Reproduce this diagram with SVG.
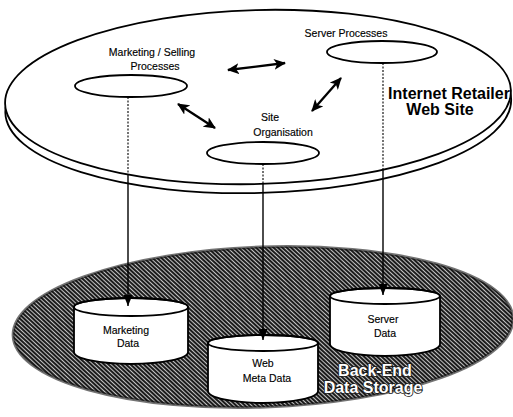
<svg xmlns="http://www.w3.org/2000/svg" width="513" height="417" viewBox="0 0 513 417">
<style>
.lbl{font-family:"Liberation Sans",Arial,sans-serif;font-size:10.5px;text-anchor:middle;fill:#000;stroke:#000;stroke-width:0.15}
.big{font-family:"Liberation Sans",Arial,sans-serif;font-size:16px;font-weight:bold;text-anchor:middle;fill:#000}
.wbig{font-family:"Liberation Sans",Arial,sans-serif;font-size:16px;font-weight:bold;text-anchor:middle;fill:#fff;stroke:#1a1a1a;stroke-width:1.6;paint-order:stroke}
.shape{fill:#fff;stroke:#000;stroke-width:1.8}
.dash{stroke:#000;stroke-width:1.1;stroke-dasharray:2 1.5;fill:none}
.solid{stroke:#000;stroke-width:1.4;fill:none}
.dbl{stroke:#000;stroke-width:2.3;fill:none;marker-start:url(#ah);marker-end:url(#ah)}
</style>
<defs>
<pattern id="hatch" width="3" height="3" patternUnits="userSpaceOnUse" patternTransform="rotate(-45)">
<rect width="3" height="3" fill="#1c1c1c"/>
<rect width="0.9" height="3" fill="#d6d6d6"/>
</pattern>
<marker id="ah" viewBox="0 0 12 11" refX="11" refY="5.5" markerWidth="12" markerHeight="11" markerUnits="userSpaceOnUse" orient="auto-start-reverse">
<path d="M0,0 L12,5.5 L0,11 L3,5.5 z" fill="#000"/>
</marker>
<marker id="down" viewBox="0 0 11 9" refX="11" refY="4.5" markerWidth="11" markerHeight="9" markerUnits="userSpaceOnUse" orient="auto">
<path d="M0,0 L11,4.5 L0,9 z" fill="#000"/>
</marker>
</defs>

<g id="web-site">
<g transform="rotate(-1.5 258 97)">
<ellipse class="shape" cx="258" cy="106" rx="253" ry="87"/>
<ellipse class="shape" cx="258" cy="97" rx="253" ry="87"/>
</g>
<text class="big" x="449" y="99">Internet Retailer</text>
<text class="big" x="440" y="115">Web Site</text>
</g>

<g id="marketing-processes">
<ellipse class="shape" cx="131" cy="86" rx="56" ry="11"/>
<text class="lbl" x="152" y="56">Marketing / Selling</text>
<text class="lbl" x="155" y="70">Processes</text>
</g>

<g id="server-processes">
<ellipse class="shape" cx="382" cy="52" rx="55" ry="11"/>
<text class="lbl" x="346" y="37">Server Processes</text>
</g>

<g id="site-organisation">
<ellipse class="shape" cx="263" cy="153" rx="56" ry="11"/>
<text class="lbl" x="270" y="121">Site</text>
<text class="lbl" x="283" y="136">Organisation</text>
</g>

<g id="back-end-storage">
<ellipse cx="263" cy="327" rx="250" ry="80" fill="url(#hatch)" stroke="#161616" stroke-width="3" stroke-opacity="0.6" transform="rotate(-2 263 327)"/>
<text class="wbig" x="375" y="376">Back-End</text>
<text class="wbig" x="373" y="393">Data Storage</text>
</g>

<g id="marketing-data">
<path class="shape" d="M74,307 L74,352 A57,12 0 0 0 188,352 L188,307 A57,9 0 0 0 74,307 Z"/>
<ellipse cx="131" cy="307" rx="57" ry="9" fill="none" stroke="#000" stroke-width="1.8"/>
<text class="lbl" x="126" y="334">Marketing</text>
<text class="lbl" x="128" y="347">Data</text>
</g>

<g id="web-meta-data">
<path class="shape" d="M208,343 L208,391 A55,12 0 0 0 318,391 L318,343 A55,8 0 0 0 208,343 Z"/>
<ellipse cx="263" cy="343" rx="55" ry="8" fill="none" stroke="#000" stroke-width="1.8"/>
<text class="lbl" x="263" y="367">Web</text>
<text class="lbl" x="267" y="382">Meta Data</text>
</g>

<g id="server-data">
<path class="shape" d="M330,296 L330,344 A55,12 0 0 0 440,344 L440,296 A55,8 0 0 0 330,296 Z"/>
<ellipse cx="385" cy="296" rx="55" ry="8" fill="none" stroke="#000" stroke-width="1.8"/>
<text class="lbl" x="383" y="323">Server</text>
<text class="lbl" x="385" y="337">Data</text>
</g>

<g id="connectors">
<line class="dbl" x1="228" y1="70" x2="285" y2="63"/>
<line class="dbl" x1="178" y1="104" x2="215" y2="128"/>
<line class="dbl" x1="341" y1="78" x2="312" y2="111"/>
<line class="dash" x1="128" y1="97" x2="128" y2="175"/>
<line class="solid" x1="128" y1="175" x2="128" y2="306" marker-end="url(#down)"/>
<line class="dash" x1="263" y1="164" x2="263" y2="184"/>
<line class="solid" x1="263" y1="184" x2="263" y2="340" marker-end="url(#down)"/>
<line class="dash" x1="383" y1="63" x2="383" y2="169"/>
<line class="solid" x1="383" y1="169" x2="383" y2="295" marker-end="url(#down)"/>
</g>
</svg>
